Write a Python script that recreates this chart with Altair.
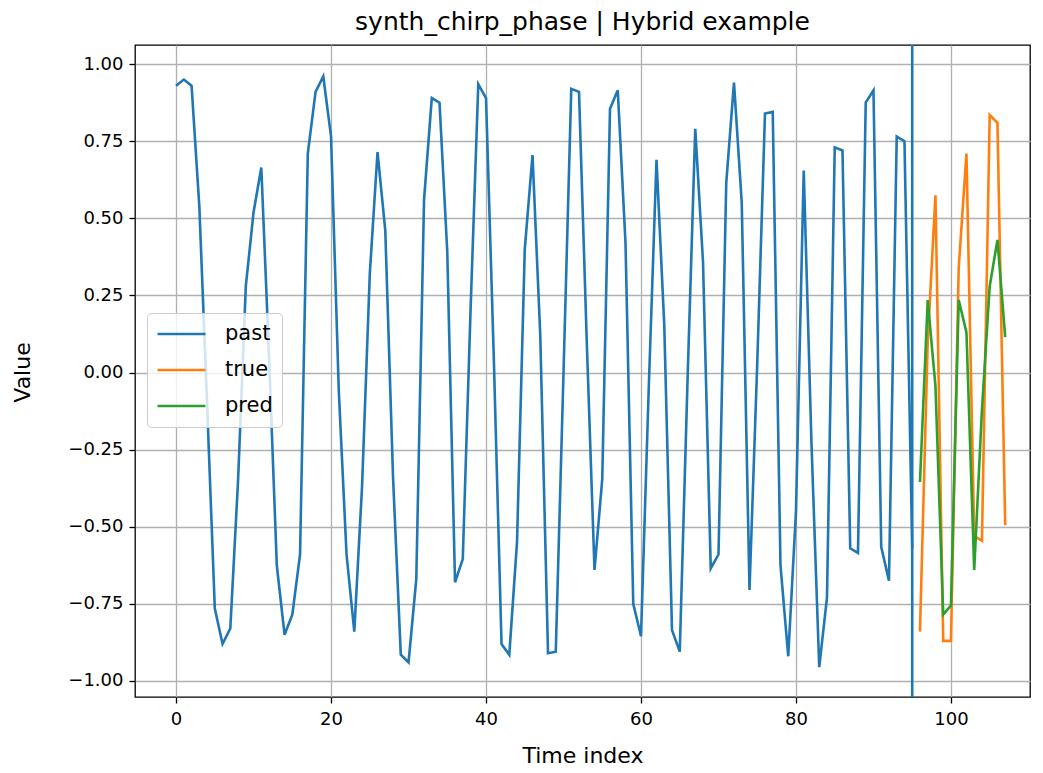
import altair as alt
import pandas as pd

# ---- data ----
past_values = [0.93, 0.95, 0.93, 0.54, -0.10, -0.765, -0.88, -0.83, -0.35, 0.28,
               0.52, 0.665, 0.05, -0.625, -0.85, -0.785, -0.59, 0.71, 0.91, 0.96,
               0.765, -0.06, -0.59, -0.84, -0.37, 0.32, 0.715, 0.46, -0.34, -0.915,
               -0.94, -0.67, 0.56, 0.89, 0.875, 0.39, -0.68, -0.605, 0.20, 0.935,
               0.89, 0.05, -0.88, -0.915, -0.55, 0.40, 0.705, 0.12, -0.91, -0.905,
               0.00, 0.92, 0.91, 0.10, -0.64, -0.345, 0.855, 0.915, 0.42, -0.75,
               -0.855, -0.05, 0.69, 0.155, -0.835, -0.905, -0.03, 0.79, 0.36, -0.635,
               -0.59, 0.615, 0.94, 0.55, -0.705, 0.03, 0.84, 0.845, -0.625, -0.92,
               -0.45, 0.655, -0.23, -0.955, -0.73, 0.73, 0.72, -0.57, -0.585, 0.875,
               0.915, -0.565, -0.675, 0.765, 0.75, -0.57]
true_values = [-0.84, 0.10, 0.575, -0.87, -0.87, 0.34, 0.71, -0.53, -0.545, 0.835, 0.81, -0.495]
pred_values = [-0.355, 0.235, -0.045, -0.785, -0.755, 0.235, 0.13, -0.64, -0.12, 0.28, 0.43, 0.115]
forecast_start = [96]
split_index = [95]

series_names = ["past", "true", "pred"]
series_colors = ["#1f77b4", "#ff7f0e", "#2ca02c"]
x_ticks = [0, 20, 40, 60, 80, 100]
y_ticks = [-1.0, -0.75, -0.5, -0.25, 0.0, 0.25, 0.5, 0.75, 1.0]

rows = []
for i, v in enumerate(past_values):
    rows.append({"t": i, "value": v, "series": "past"})
for i, v in enumerate(true_values):
    rows.append({"t": forecast_start[0] + i, "value": v, "series": "true"})
for i, v in enumerate(pred_values):
    rows.append({"t": forecast_start[0] + i, "value": v, "series": "pred"})
df = pd.DataFrame(rows)
df_split = pd.DataFrame({"t": split_index})

FONT = "DejaVu Sans"

x_enc = alt.X(
    "t:Q",
    scale=alt.Scale(domain=[-5.3, 110.2], nice=False, zero=False),
    axis=alt.Axis(values=x_ticks, format="d", title="Time index",
                  titleY=58, titleBaseline="middle", labelPadding=7),
)
y_enc = alt.Y(
    "value:Q",
    scale=alt.Scale(domain=[-1.052, 1.062], nice=False, zero=False),
    axis=alt.Axis(values=y_ticks, format=".2f", title="Value",
                  titleX=-113, titleY=327, titleAngle=270,
                  titleBaseline="middle", titleAlign="center", labelPadding=6),
)

lines = alt.Chart(df).mark_line(strokeWidth=2.6).encode(
    x=x_enc,
    y=y_enc,
    color=alt.Color(
        "series:N",
        scale=alt.Scale(domain=series_names, range=series_colors),
        legend=alt.Legend(
            title=None,
            orient="none",
            legendX=12,
            legendY=268,
            symbolType="stroke",
            symbolSize=2300,
            symbolStrokeWidth=2.6,
            labelFontSize=21,
            labelFont=FONT,
            labelColor="black",
            fillColor="rgba(255,255,255,0.8)",
            strokeColor="#cccccc",
            cornerRadius=4,
            padding=9,
            clipHeight=24,
            rowPadding=12,
            labelOffset=18,
        ),
    ),
    order="t:Q",
)

rule = alt.Chart(df_split).mark_rule(color="#1f77b4", strokeWidth=2.6).encode(x="t:Q")

chart = (
    alt.layer(lines, rule)
    .properties(
        width=895,
        height=652,
        autosize=alt.AutoSizeParams(type="none"),
        padding={"left": 127, "top": 37, "right": 5, "bottom": 74},
        title=alt.TitleParams(
            "synth_chirp_phase | Hybrid example",
            fontSize=25,
            font=FONT,
            fontWeight="normal",
            color="black",
            anchor="middle",
            offset=9,
        ),
    )
    .configure_view(stroke="black", strokeWidth=1.3)
    .configure_axis(
        grid=True,
        gridColor="#b0b0b0",
        gridWidth=1.3,
        domain=False,
        tickColor="black",
        tickSize=6,
        tickWidth=1.3,
        labelFont=FONT,
        labelFontSize=18,
        labelColor="black",
        titleFont=FONT,
        titleFontSize=22,
        titleFontWeight="normal",
        titleColor="black",
    )
)

chart.save("out.html", embed_options={"renderer": "svg", "actions": False})
